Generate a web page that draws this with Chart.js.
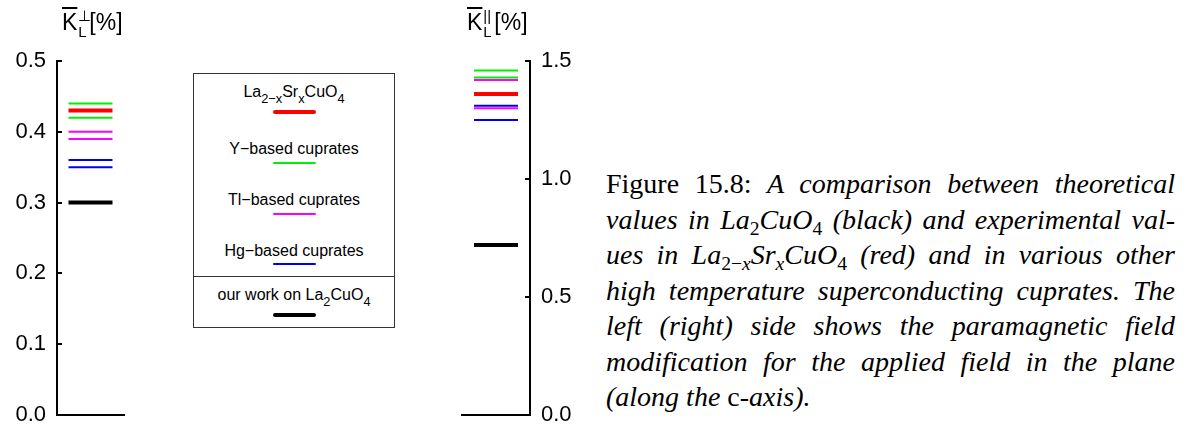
<!DOCTYPE html>
<html>
<head>
<meta charset="utf-8">
<script src="https://cdn.jsdelivr.net/npm/chart.js@4.4.1/dist/chart.umd.min.js"></script>
<style>
  body { margin: 0; width: 1189px; height: 430px; background: #fff; position: relative; overflow: hidden;
         font-family: "Liberation Sans", Arial, sans-serif; color: #000; }
  .abs { position: absolute; }
  .ylab { position: absolute; font-size: 23px; line-height: 23px; white-space: nowrap; }
  .ylab .k { text-decoration: overline; }
  .ylab .stack { display: inline-block; position: relative; width: 12px; height: 23px; vertical-align: top; }
  .ylab .stack span { position: absolute; left: 1px; font-size: 15px; line-height: 15px; }
  #legendBox { position: absolute; left: 193px; top: 73px; width: 200px; height: 253px; border: 1px solid #333; }
  .legText { position: absolute; left: 0; width: 200px; text-align: center; font-size: 16px; line-height: 16px; white-space: nowrap; }
  .legText sub { font-size: 0.8em; vertical-align: -0.45em; line-height: 0; }
  .legLine { position: absolute; left: 79px; width: 43px; }
  #caption { position: absolute; left: 606px; top: 166px; width: 569px; font-family: "Liberation Serif", "Times New Roman", serif;
             font-size: 28px; font-style: italic; line-height: 35.5px; }
  #caption .ln { white-space: nowrap; text-align: justify; text-align-last: justify; height: 35.5px; }
  #caption .last { text-align-last: left; }
  #caption .rm { font-style: normal; }
  #caption sub { font-style: normal; font-size: 0.7em; vertical-align: -0.3em; line-height: 0; }
</style>
</head>
<body>

<div class="abs" style="left:0;top:0;width:132px;height:430px"><canvas id="perpChart"></canvas></div>
<div class="abs" style="left:440px;top:0;width:150px;height:430px"><canvas id="parChart"></canvas></div>

<div class="ylab" style="left:62px;top:11px"><span class="k">K</span><span class="stack"><span style="top:-3px">⊥</span><span style="top:13px">L</span></span>[%]</div>
<div class="ylab" style="left:467px;top:11px"><span class="k">K</span><span class="stack"><span style="top:-3px">||</span><span style="top:13px">L</span></span>[%]</div>

<div id="legendBox"></div>

<div id="caption">
  <div class="ln"><span class="rm">Figure 15.8:</span> A comparison between theoretical</div>
  <div class="ln">values in La<sub>2</sub>CuO<sub>4</sub> (black) and experimental val-</div>
  <div class="ln">ues in La<sub>2−<i>x</i></sub>Sr<sub><i>x</i></sub>CuO<sub>4</sub> (red) and in various other</div>
  <div class="ln">high temperature superconducting cuprates. The</div>
  <div class="ln">left (right) side shows the paramagnetic field</div>
  <div class="ln">modification for the applied field in the plane</div>
  <div class="ln last">(along the <span class="rm">c</span>-axis).</div>
</div>

<script>
// series, in legend order
const seriesNames = ['La<sub>2−x</sub>Sr<sub>x</sub>CuO<sub>4</sub>', 'Y−based cuprates', 'Tl−based cuprates', 'Hg−based cuprates', 'our work on La<sub>2</sub>CuO<sub>4</sub>'];
const seriesColors = ['#ff0000', '#00f000', '#ff00ff', '#0000f0', '#000000'];

// K_L perpendicular [%] (field in the plane)
const perpLSCO = [0.43];
const perpY = [0.44, 0.42];
const perpTl = [0.40, 0.39];
const perpHg = [0.36, 0.35];
const perpOurs = [0.30];

// K_L parallel [%] (field along c)
const parLSCO = [1.36];
const parY = [1.46, 1.43];
const parTl = [1.42, 1.30];
const parHg = [1.31, 1.25];
const parOurs = [0.72];

const perpTicks = [0.0, 0.1, 0.2, 0.3, 0.4, 0.5];
const parTicks = [0.0, 0.5, 1.0, 1.5];

// small tick marks pointing into the plot
const innerTicks = {
  id: 'innerTicks',
  afterDraw(chart) {
    const y = chart.scales.y;
    const ctx = chart.ctx;
    const left = y.position === 'left';
    const x0 = left ? y.right : y.left;
    ctx.save();
    ctx.strokeStyle = '#000';
    ctx.lineWidth = 2;
    y.ticks.forEach(t => {
      const py = Math.round(y.getPixelForValue(t.value));
      ctx.beginPath();
      ctx.moveTo(x0, py);
      ctx.lineTo(x0 + (left ? 5 : -5), py);
      ctx.stroke();
    });
    ctx.restore();
  }
};

function makeSets(groups, cat) {
  return groups.map((vals, i) => ({
    data: vals.map(v => ({x: cat, y: v})),
    showLine: false,
    pointStyle: 'line',
    pointRadius: 22,
    pointBorderWidth: (i === 0 || i === 4) ? 4 : 2,
    pointBorderColor: seriesColors[i],
    pointBackgroundColor: seriesColors[i],
  }));
}

function makeChart(id, cat, groups, tickVals, side) {
  const left = side === 'left';
  return new Chart(document.getElementById(id), {
    type: 'line',
    data: { labels: [cat], datasets: makeSets(groups, cat) },
    options: {
      responsive: true,
      maintainAspectRatio: false,
      animation: false,
      events: [],
      layout: {
        autoPadding: false,
        padding: left ? {left: 0, right: 8, top: 61, bottom: 0} : {left: 22, right: 0, top: 61, bottom: 0}
      },
      plugins: { legend: { display: false }, tooltip: { enabled: false } },
      scales: {
        x: {
          type: 'category',
          offset: true,
          grid: { display: false },
          border: { display: true, width: 2, color: '#000' },
          ticks: { display: false },
          afterFit: s => { s.height = 15; s.paddingLeft = 0; s.paddingRight = 0; },
        },
        y: {
          position: side,
          min: tickVals[0],
          max: tickVals[tickVals.length - 1],
          afterBuildTicks: s => { s.ticks = tickVals.map(v => ({value: v})); },
          grid: { display: false, drawTicks: false },
          border: { display: true, width: 2, color: '#000' },
          ticks: {
            color: '#000',
            padding: 11,
            font: { family: 'Liberation Sans', size: 22 },
            callback: v => Number(v).toFixed(1),
          },
          afterFit: s => { s.width = left ? 57 : 60; s.paddingTop = 0; s.paddingBottom = 0; },
        }
      }
    },
    plugins: [innerTicks],
  });
}

makeChart('perpChart', 'perp', [perpLSCO, perpY, perpTl, perpHg, perpOurs], perpTicks, 'left');
makeChart('parChart', 'par', [parLSCO, parY, parTl, parHg, parOurs], parTicks, 'right');

// legend box
const box = document.getElementById('legendBox');
const textTops = [10, 67, 118, 169, 213];
const lineTops = [38, 89, 140, 190, 241];
seriesNames.forEach((name, i) => {
  const t = document.createElement('div');
  t.className = 'legText';
  t.style.top = textTops[i] + 'px';
  t.innerHTML = name;
  box.appendChild(t);
  const l = document.createElement('div');
  const h = (i === 0 || i === 4) ? 4 : 2;
  l.className = 'legLine';
  l.style.top = (lineTops[i] - h / 2) + 'px';
  l.style.height = h + 'px';
  l.style.borderRadius = (h / 2) + 'px';
  l.style.background = seriesColors[i];
  box.appendChild(l);
});
const sep = document.createElement('div');
sep.style.cssText = 'position:absolute;left:0;top:202px;width:200px;height:1px;background:#333';
box.appendChild(sep);
</script>
</body>
</html>
